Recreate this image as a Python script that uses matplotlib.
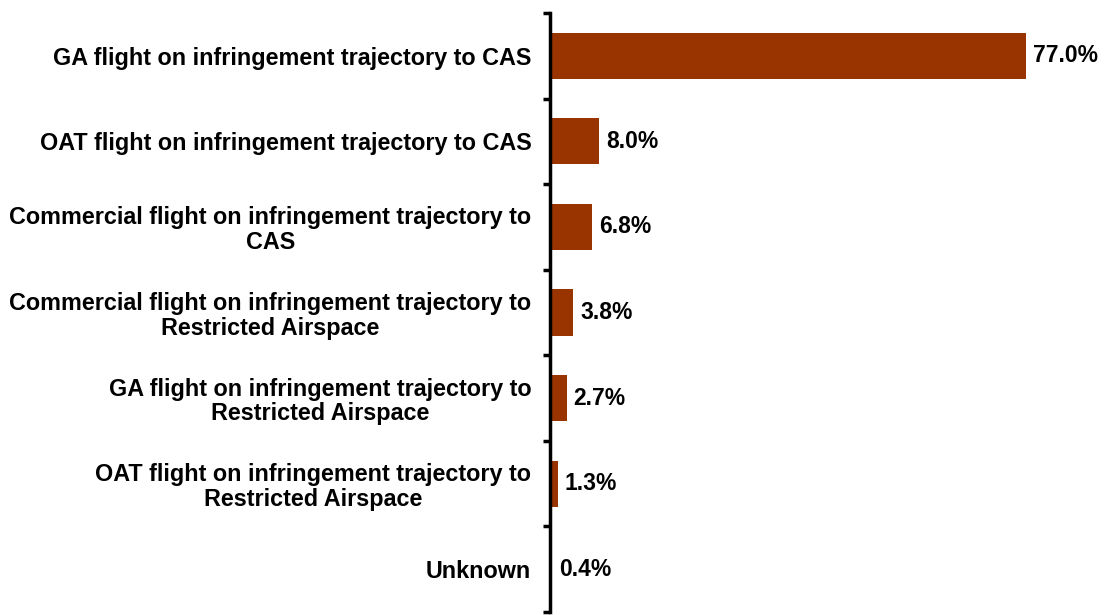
import matplotlib.pyplot as plt
import numpy as np

plt.rcParams['font.family'] = ['Liberation Sans', 'DejaVu Sans']

categories = [
    'GA flight on infringement trajectory to CAS',
    'OAT flight on infringement trajectory to CAS',
    'Commercial flight on infringement trajectory to\nCAS',
    'Commercial flight on infringement trajectory to\nRestricted Airspace',
    'GA flight on infringement trajectory to\nRestricted Airspace',
    'OAT flight on infringement trajectory to\nRestricted Airspace',
    'Unknown',
]
values = [77.0, 8.0, 6.8, 3.8, 2.7, 1.3, 0.4]

bar_color = '#993300'

fig = plt.figure(figsize=(11.04, 6.15), dpi=100)
ax = fig.add_axes([550 / 1104, 3 / 615, 554 / 1104, 599 / 615])

y = np.arange(len(categories))
ax.barh(y, values, height=0.54, color=bar_color)

ax.set_ylim(len(categories) - 0.5, -0.5)
ax.set_xlim(0, 554 / 6.18)

for yi, v in zip(y, values):
    ax.text(v + 1.1, yi, f'{v:.1f}%', va='center', ha='left',
            fontsize=16.5, fontweight='bold')

ax.set_yticks(y)
ax.set_yticklabels(categories, fontsize=16.8, fontweight='bold',
                   multialignment='center', linespacing=1.1)
ax.tick_params(axis='y', which='major', length=0, pad=13.5)
ax.set_yticks(np.arange(len(categories) + 1) - 0.5, minor=True)
ax.tick_params(axis='y', which='minor', length=5, width=2.5, direction='out')

for s in ['top', 'right', 'bottom']:
    ax.spines[s].set_visible(False)
ax.spines['left'].set_linewidth(2.5)
ax.set_xticks([])

fig.savefig('out.png', dpi=100)
